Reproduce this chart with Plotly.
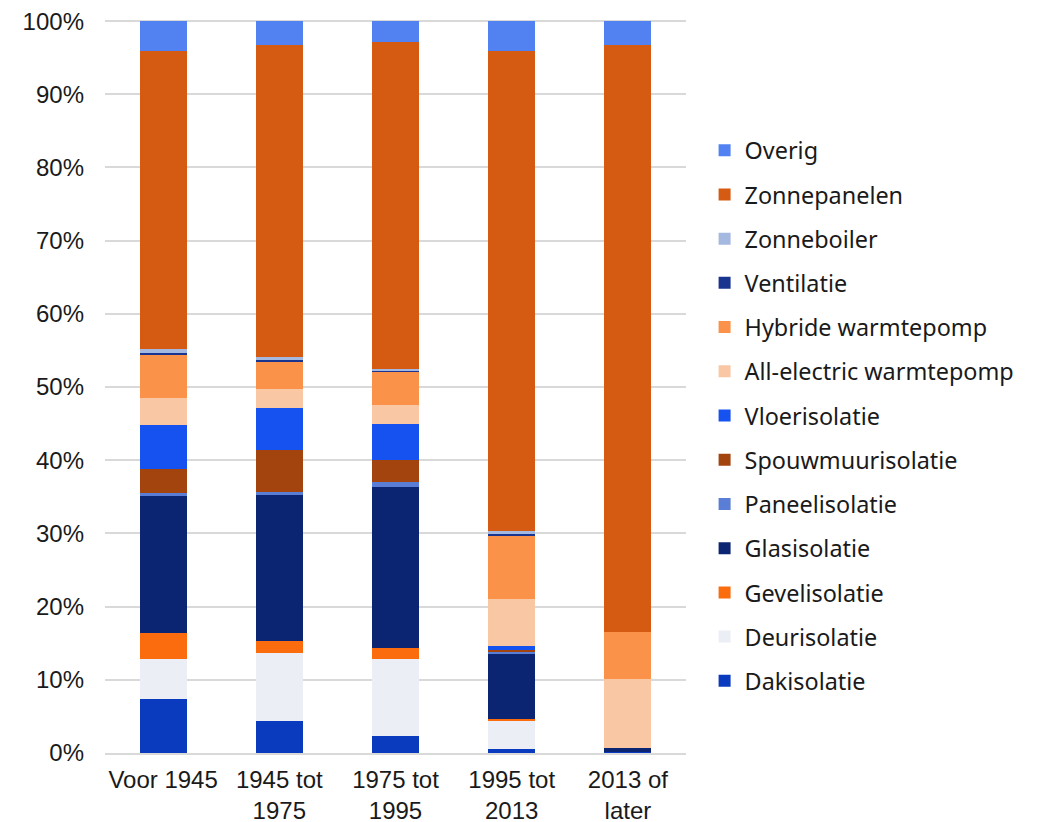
import plotly.graph_objects as go

categories = ["Voor 1945", "1945 tot<br>1975", "1975 tot<br>1995", "1995 tot<br>2013", "2013 of<br>later"]

# shares per measure (%), bottom of stack first
dakisolatie = [7.4, 4.4, 2.3, 0.6, 0.2]
deurisolatie = [5.4, 9.3, 10.6, 3.8, 0.0]
gevelisolatie = [3.6, 1.6, 1.4, 0.3, 0.0]
glasisolatie = [18.8, 19.9, 22.0, 8.9, 0.5]
paneelisolatie = [0.4, 0.5, 0.7, 0.3, 0.0]
spouwmuurisolatie = [3.3, 5.7, 3.1, 0.2, 0.0]
vloerisolatie = [5.9, 5.7, 4.9, 0.5, 0.0]
all_electric = [3.7, 2.6, 2.5, 6.5, 9.4]
hybride = [5.9, 3.8, 4.6, 8.6, 6.4]
ventilatie = [0.3, 0.2, 0.2, 0.3, 0.0]
zonneboiler = [0.6, 0.4, 0.1, 0.3, 0.0]
zonnepanelen = [40.7, 42.6, 44.7, 65.7, 80.2]
overig = [4.1, 3.3, 2.9, 4.1, 3.3]

y_ticks = [0, 10, 20, 30, 40, 50, 60, 70, 80, 90, 100]
y_labels = [f"{t}%" for t in y_ticks]

series = [
    ("Dakisolatie", dakisolatie, "#0a3bbf"),
    ("Deurisolatie", deurisolatie, "#eceef6"),
    ("Gevelisolatie", gevelisolatie, "#fb6c0e"),
    ("Glasisolatie", glasisolatie, "#0c2572"),
    ("Paneelisolatie", paneelisolatie, "#5a7dd6"),
    ("Spouwmuurisolatie", spouwmuurisolatie, "#a3440f"),
    ("Vloerisolatie", vloerisolatie, "#1552f0"),
    ("All-electric warmtepomp", all_electric, "#fac7a5"),
    ("Hybride warmtepomp", hybride, "#fb924a"),
    ("Ventilatie", ventilatie, "#1a3590"),
    ("Zonneboiler", zonneboiler, "#a5b8e0"),
    ("Zonnepanelen", zonnepanelen, "#d55a12"),
    ("Overig", overig, "#5282f2"),
]

fig = go.Figure()
for i, (name, vals, color) in enumerate(series):
    fig.add_trace(go.Bar(
        x=categories, y=vals, name=name,
        marker=dict(color=color, line=dict(width=0)),
        legendgroup=str(i),
        legendrank=1000 - i,  # Overig on top of the legend
    ))

tick_font = "Liberation Sans, Arial, sans-serif"
legend_font = "Noto Sans, Liberation Sans, sans-serif"

# page has an 8px body margin, so margins are offset accordingly
fig.update_layout(
    barmode="stack",
    barnorm="percent",
    bargap=0.595,
    width=1038, height=822,
    margin=dict(l=97, r=360, t=12, b=77),
    plot_bgcolor="white",
    paper_bgcolor="white",
    font=dict(family=tick_font, size=24, color="#1a1a1a"),
    showlegend=True,
    legend=dict(
        traceorder="grouped",
        x=1.032, xanchor="left",
        y=0.852, yanchor="top",
        font=dict(family=legend_font, size=23.4, color="#1a1a1a"),
        tracegroupgap=10.8,
        itemwidth=30,
    ),
    yaxis=dict(
        range=[0, 100.15],
        tickvals=y_ticks,
        ticktext=y_labels,
        showgrid=True, gridcolor="#d9d9d9", gridwidth=2,
        zeroline=False,
        ticks="", ticklen=0,
        ticklabelstandoff=20,
        ticklabeloverflow="allow",
        tickfont=dict(size=24),
        automargin=False,
    ),
    xaxis=dict(
        showline=True, linecolor="#d9d9d9", linewidth=2,
        tickfont=dict(size=24),
        ticks="",
        ticklabelstandoff=4,
        ticklabeloverflow="allow",
        automargin=False,
    ),
)

fig.write_html("out.html")
